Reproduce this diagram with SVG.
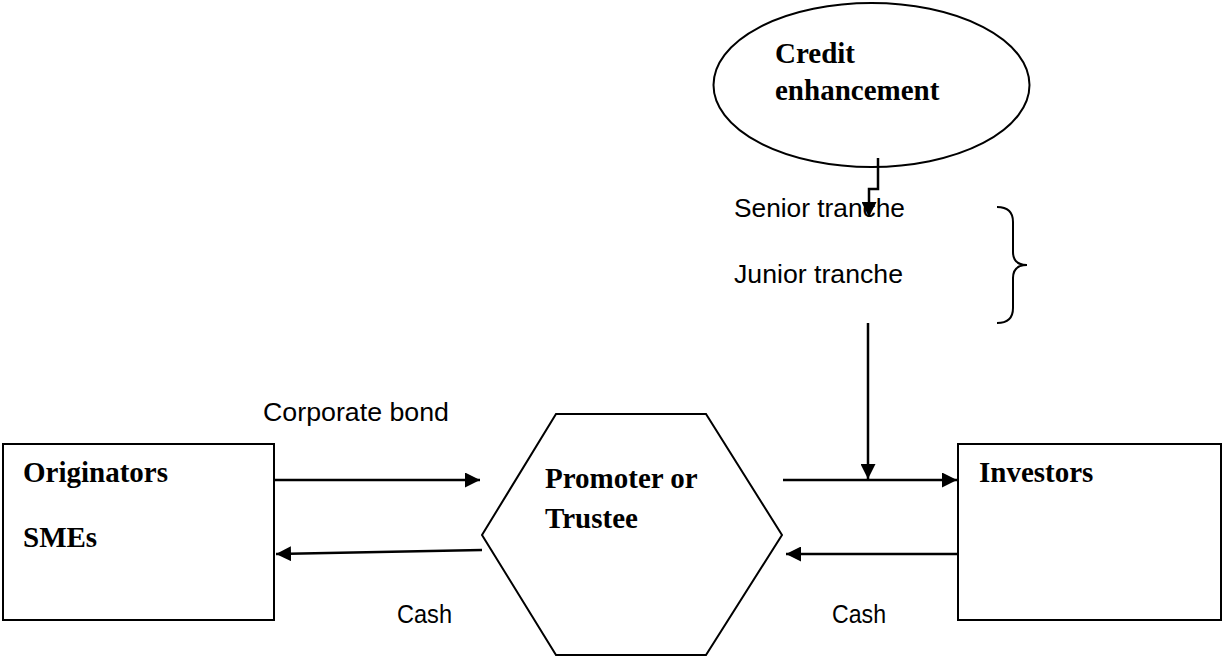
<svg xmlns="http://www.w3.org/2000/svg" width="1223" height="657" viewBox="0 0 1223 657">
<defs>
<marker id="arr" viewBox="0 0 10 10" refX="10" refY="5" markerWidth="15" markerHeight="15" markerUnits="userSpaceOnUse" orient="auto">
<path d="M0,0 L10,5 L0,10 Z" fill="#000"/>
</marker>
</defs>
<style>
.shape{fill:#fff;stroke:#000;stroke-width:2}
.b{font-family:"Liberation Serif","Times New Roman",serif;font-weight:bold;font-size:29px;fill:#000}
.l{font-family:"Liberation Sans",Arial,sans-serif;font-size:26px;fill:#000}
.c{fill:none;stroke:#000;stroke-width:2.5}
</style>
<rect width="1223" height="657" fill="#fff"/>
<g id="credit">
<ellipse class="shape" cx="871.5" cy="85" rx="158" ry="82"/>
<text class="b" x="775" y="63">Credit</text>
<text class="b" x="775" y="100">enhancement</text>
</g>
<g id="tranches">
<text class="l" x="734" y="217" textLength="171" lengthAdjust="spacingAndGlyphs">Senior tranche</text>
<text class="l" x="734" y="283" textLength="169" lengthAdjust="spacingAndGlyphs">Junior tranche</text>
<path d="M997,207 Q1013,207 1013,222 L1013,252 Q1013,265 1027,265 Q1013,265 1013,278 L1013,308 Q1013,323 997,323" fill="none" stroke="#000" stroke-width="2"/>
</g>
<g id="originators">
<rect class="shape" x="3" y="444" width="271" height="176"/>
<text class="b" x="23" y="482">Originators</text>
<text class="b" x="23" y="547">SMEs</text>
</g>
<g id="promoter">
<polygon class="shape" points="556,414 706,414 782,535 706,655 556,655 482,535"/>
<text class="b" x="545" y="488">Promoter or</text>
<text class="b" x="545" y="528">Trustee</text>
</g>
<g id="investors">
<rect class="shape" x="958" y="444" width="263" height="176"/>
<text class="b" x="979" y="482">Investors</text>
</g>
<g id="connectors">
<path class="c" d="M274,480 L480,480" marker-end="url(#arr)"/>
<path class="c" d="M482,550 L276,554" marker-end="url(#arr)"/>
<path class="c" d="M783,480 L957,480" marker-end="url(#arr)"/>
<path class="c" d="M958,554 L786,554" marker-end="url(#arr)"/>
<path class="c" d="M868,323 L868,479" marker-end="url(#arr)"/>
<path class="c" d="M878,158 L878,189 L869,189 L869,217" marker-end="url(#arr)"/>
<text class="l" x="263" y="421" textLength="186" lengthAdjust="spacingAndGlyphs">Corporate bond</text>
<text class="l" x="397" y="623" textLength="55" lengthAdjust="spacingAndGlyphs">Cash</text>
<text class="l" x="832" y="623" textLength="54" lengthAdjust="spacingAndGlyphs">Cash</text>
</g>
</svg>
